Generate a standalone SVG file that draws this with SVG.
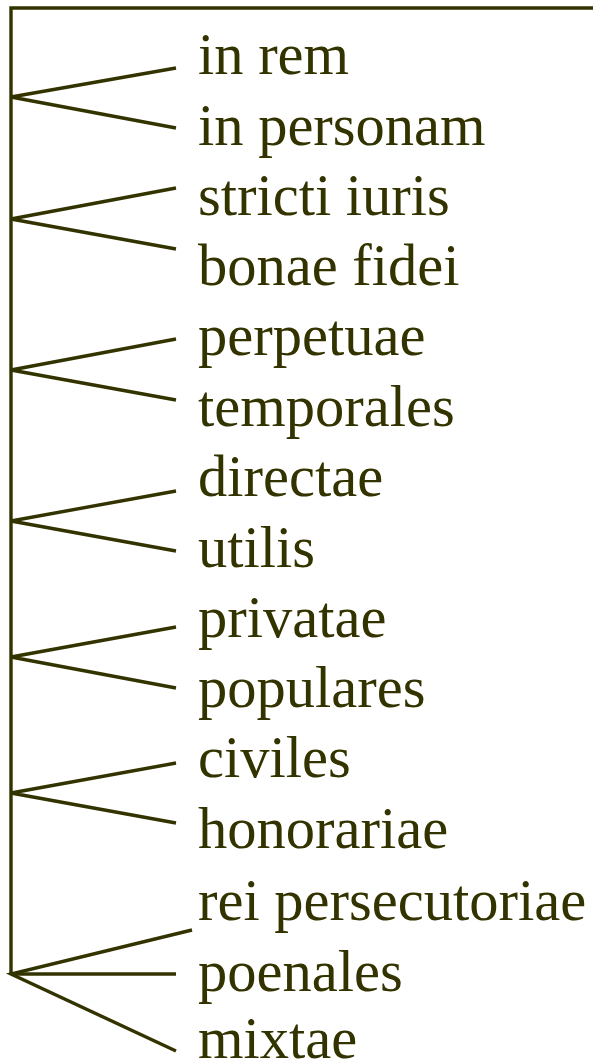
<svg xmlns="http://www.w3.org/2000/svg" width="593" height="1062" viewBox="0 0 593 1062">
<style>
.ln{stroke:#333300;stroke-width:3.4;fill:none;stroke-linecap:butt}
.t{font-family:"Liberation Serif","Times New Roman",serif;font-size:58.5px;fill:#333300}
</style>
<rect width="593" height="1062" fill="#ffffff"/>
<g id="connectors">
<polyline class="ln" points="593,8 11,8 11,975"/>
<polyline class="ln" points="176,68 11,97 176,128"/>
<polyline class="ln" points="176,188 11,219 176,249"/>
<polyline class="ln" points="176,339 11,370 176,400"/>
<polyline class="ln" points="176,491 11,521 176,551"/>
<polyline class="ln" points="176,627 11,657 176,688"/>
<polyline class="ln" points="176,763 11,793 176,823"/>
<polyline class="ln" points="192,930 11,974 176,1051"/>
<line class="ln" x1="11" y1="974" x2="176" y2="974"/>
</g>
<g id="n1"><text class="t" x="198" y="74">in rem</text></g>
<g id="n2"><text class="t" x="198" y="145">in personam</text></g>
<g id="n3"><text class="t" x="198" y="215">stricti iuris</text></g>
<g id="n4"><text class="t" x="198" y="285">bonae fidei</text></g>
<g id="n5"><text class="t" x="198" y="355">perpetuae</text></g>
<g id="n6"><text class="t" x="198" y="426">temporales</text></g>
<g id="n7"><text class="t" x="198" y="496">directae</text></g>
<g id="n8"><text class="t" x="198" y="567">utilis</text></g>
<g id="n9"><text class="t" x="198" y="637">privatae</text></g>
<g id="n10"><text class="t" x="198" y="707">populares</text></g>
<g id="n11"><text class="t" x="198" y="777">civiles</text></g>
<g id="n12"><text class="t" x="198" y="848">honorariae</text></g>
<g id="n13"><text class="t" x="198" y="920">rei persecutoriae</text></g>
<g id="n14"><text class="t" x="198" y="991">poenales</text></g>
<g id="n15"><text class="t" x="198" y="1058">mixtae</text></g>
</svg>
